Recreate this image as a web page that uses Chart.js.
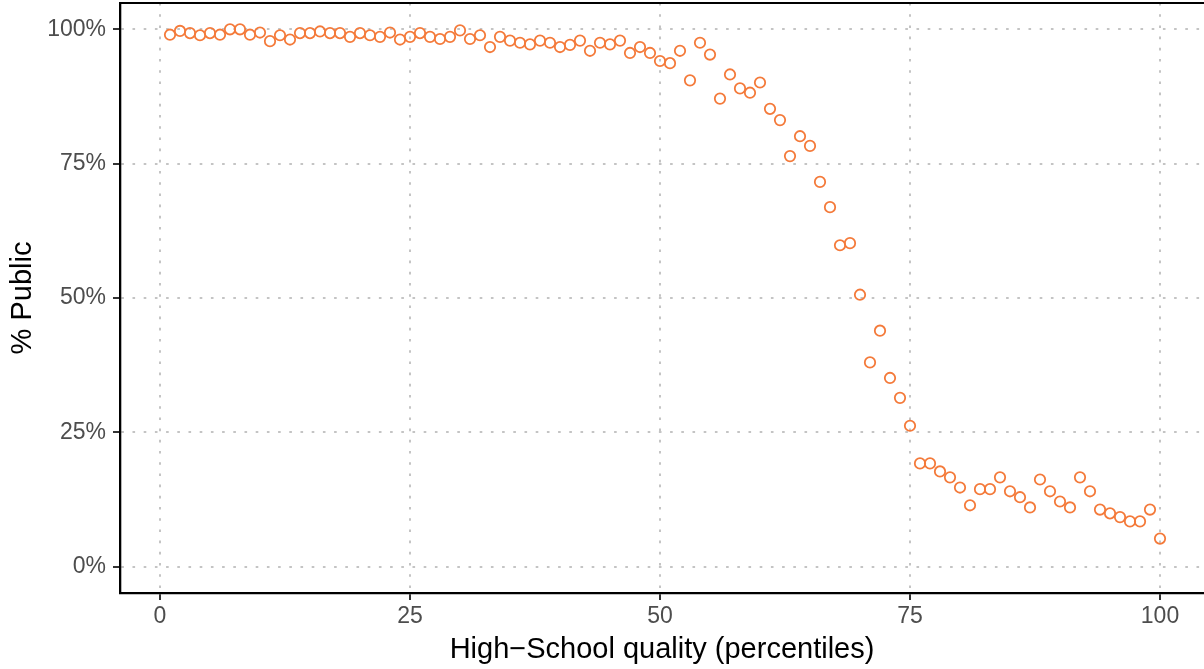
<!DOCTYPE html>
<html>
<head>
<meta charset="utf-8">
<script src="https://cdn.jsdelivr.net/npm/chart.js@4"></script>
<style>
  html, body { margin: 0; padding: 0; background: #fff; }
  #wrap { width: 1204px; height: 669px; }
</style>
</head>
<body>
<div id="wrap"><canvas id="chart" width="1204" height="669"></canvas></div>
<script>
// percentiles of high-school quality
const percentiles = [
  1, 2, 3, 4, 5, 6, 7, 8, 9, 10, 11, 12, 13, 14, 15, 16, 17, 18, 19, 20,
  21, 22, 23, 24, 25, 26, 27, 28, 29, 30, 31, 32, 33, 34, 35, 36, 37, 38, 39, 40,
  41, 42, 43, 44, 45, 46, 47, 48, 49, 50, 51, 52, 53, 54, 55, 56, 57, 58, 59, 60,
  61, 62, 63, 64, 65, 66, 67, 68, 69, 70, 71, 72, 73, 74, 75, 76, 77, 78, 79, 80,
  81, 82, 83, 84, 85, 86, 87, 88, 89, 90, 91, 92, 93, 94, 95, 96, 97, 98, 99, 100,
];

// share of students in public schools (%)
const pctPublic = [
  99.0, 99.7, 99.3, 98.9, 99.3, 99.0, 100.0, 100.0, 99.0, 99.4,
  97.8, 98.9, 98.1, 99.3, 99.3, 99.6, 99.3, 99.3, 98.6, 99.3,
  98.9, 98.6, 99.4, 98.1, 98.6, 99.3, 98.6, 98.2, 98.6, 99.8,
  98.2, 98.9, 96.7, 98.6, 97.9, 97.5, 97.2, 97.9, 97.5, 96.7,
  97.1, 97.9, 96.0, 97.5, 97.2, 97.9, 95.6, 96.7, 95.6, 94.1,
  93.7, 96.0, 90.5, 97.5, 95.3, 87.1, 91.6, 89.0, 88.2, 90.1,
  85.2, 83.1, 76.4, 80.1, 78.3, 71.6, 66.9, 59.8, 60.2, 50.6,
  38.0, 43.9, 35.1, 31.4, 26.2, 19.2, 19.2, 17.7, 16.6, 14.7,
  11.4, 14.4, 14.4, 16.6, 14.0, 12.9, 11.0, 16.2, 14.0, 12.1,
  11.0, 16.6, 14.0, 10.6, 9.9, 9.2, 8.4, 8.4, 10.6, 5.2,
];

const xTicks = [0, 25, 50, 75, 100];
const yTicks = [0, 25, 50, 75, 100];

const points = percentiles.map((p, i) => ({ x: p, y: pctPublic[i] }));

const font = "'Liberation Sans', Arial, Helvetica, sans-serif";
const gridStyle = {
  color: "#c4c4c4",
  lineWidth: 2,
  tickColor: "#333333",
  tickWidth: 2,
  tickBorderDash: [],
  tickLength: 7,
};
// in v4 the grid line dash lives under border.dash
const axisBorder = { display: true, color: "#000000", width: 2.3, dash: [2.6, 8.6] };

function noPadding(axis) {
  axis.paddingTop = 0;
  axis.paddingBottom = 0;
  axis.paddingLeft = 0;
  axis.paddingRight = 0;
}

new Chart(document.getElementById("chart"), {
  type: "scatter",
  data: {
    datasets: [
      {
        label: "% Public",
        data: points,
        pointStyle: "circle",
        pointRadius: 5.2,
        pointBorderWidth: 1.8,
        borderColor: "#f47a3a",
        backgroundColor: "rgba(0,0,0,0)",
      },
    ],
  },
  options: {
    responsive: false,
    animation: false,
    devicePixelRatio: 1,
    layout: { padding: 0, autoPadding: false },
    plugins: { legend: { display: false }, tooltip: { enabled: false } },
    scales: {
      x: {
        type: "linear",
        position: "bottom",
        min: -4,
        max: 104.4,
        afterBuildTicks: (axis) => { axis.ticks = xTicks.map((v) => ({ value: v })); },
        afterFit: (axis) => { axis.height = 76; noPadding(axis); },
        grid: gridStyle,
        border: axisBorder,
        ticks: {
          color: "#4d4d4d",
          font: { family: font, size: 23 },
          padding: 3,
          maxRotation: 0,
        },
        title: {
          display: true,
          text: "High\u2212School quality (percentiles)",
          color: "#000000",
          font: { family: font, size: 29 },
          padding: { top: 0, bottom: 2 },
        },
      },
      xTop: {
        type: "linear",
        position: "top",
        min: -4,
        max: 104.4,
        afterFit: (axis) => { axis.height = 3; noPadding(axis); },
        grid: { display: false },
        ticks: { display: false },
        border: { display: true, color: "#000000", width: 2 },
      },
      y: {
        type: "linear",
        min: -4.93,
        max: 104.9,
        afterBuildTicks: (axis) => { axis.ticks = yTicks.map((v) => ({ value: v })); },
        afterFit: (axis) => { axis.width = 120; noPadding(axis); },
        grid: gridStyle,
        border: axisBorder,
        ticks: {
          color: "#4d4d4d",
          font: { family: font, size: 23 },
          padding: 7,
          callback: (v) => v + "%",
        },
        title: {
          display: true,
          text: "% Public",
          color: "#000000",
          font: { family: font, size: 29 },
          padding: { top: 5.5, bottom: 0 },
        },
      },
    },
  },
});
</script>
</body>
</html>
